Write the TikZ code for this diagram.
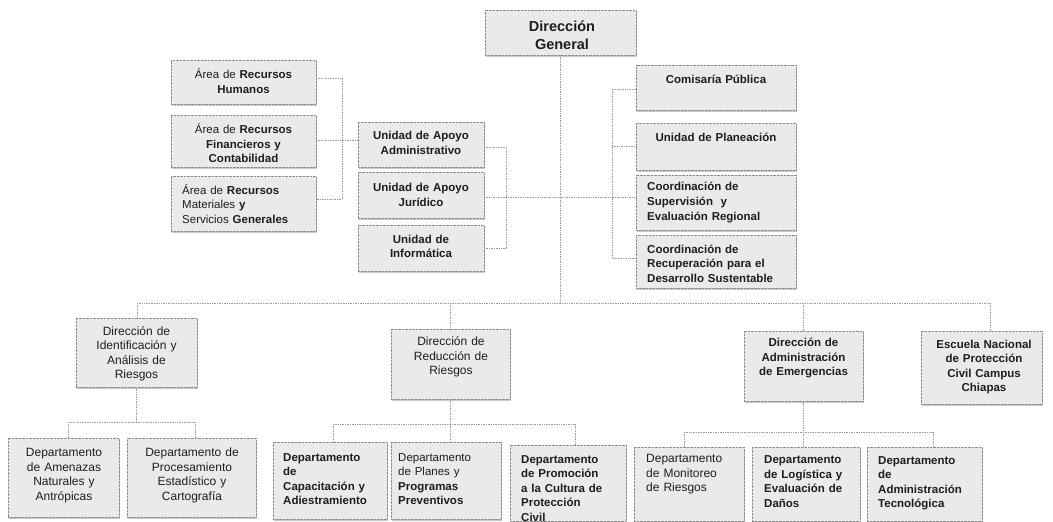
\documentclass[tikz,border=0pt]{standalone}
\usepackage{fontspec}
\setmainfont{Liberation Sans}
\usetikzlibrary{shadows,calc}
\definecolor{ink}{HTML}{1E1E1E}
\definecolor{boxfill}{HTML}{EAEAEA}
\definecolor{boxline}{HTML}{8C8C8C}
\definecolor{wirec}{HTML}{9A9A9A}
\tikzset{
  orgbox/.style={draw=boxline, densely dotted, fill=boxfill, inner sep=0pt, outer sep=0pt,
    drop shadow={shadow xshift=0.6pt, shadow yshift=-1.6pt, fill=gray!60, opacity=0.7}},
  lbl/.style={inner sep=0pt, text=ink, font=\fontsize{11.5}{14.5}\selectfont},
  lblr/.style={inner sep=0pt, text=ink, font=\fontsize{12}{14.5}\selectfont},
  wire/.style={draw=wirec, densely dotted, line width=0.7pt},
}
\newcommand\obox[5]{\node[orgbox, minimum width={(#4-#2)*1pt}, minimum height={(#5-#3)*1pt}] (#1) at ({(#2+#4)/2},{(#3+#5)/2}) {};}
\newcommand\ctext[6]{\node[#1, align=center, text width=#5pt] (#2) at (#3,#4) {#6};}
\newcommand\ltext[6]{\node[#1, align=left, text width=#5pt, anchor=west] (#2) at (#3,#4) {#6};}
\begin{document}
\begin{tikzpicture}[x=1pt,y=-1pt]
\useasboundingbox[fill=white] (0,0) rectangle (1053,522);

% ---------- connectors ----------
\coordinate (mainL) at (137,303);
\coordinate (mainR) at (990,303);
\coordinate (ka) at (342,78);
\coordinate (kb) at (342,199);
\coordinate (kc) at (342,140);
\coordinate (ja) at (506,147);
\coordinate (jb) at (506,248);
\coordinate (jc) at (506,197);
\coordinate (ra) at (612,89);
\coordinate (rb) at (612,258);
\coordinate (rc) at (612,146);
\coordinate (da) at (68,422);
\coordinate (db) at (195,422);
\coordinate (ea) at (333,424);
\coordinate (eb) at (575,424);
\coordinate (fa) at (684,432);
\coordinate (fb) at (933,432);

% ---------- boxes ----------
\obox{dg}{485}{10}{636}{55}
\obox{rh}{171}{60}{316}{104}
\obox{rf}{171}{115}{316}{167}
\obox{rm}{171}{176}{316}{231}
\obox{uaa}{358}{122}{484}{167}
\obox{uaj}{358}{172}{484}{218}
\obox{ui}{358}{225}{484}{271}
\obox{com}{636}{65}{796}{110}
\obox{plan}{636}{123}{796}{170}
\obox{csup}{636}{175}{796}{230}
\obox{crec}{636}{235}{796}{288}
\obox{dia}{76}{318}{197}{387}
\obox{drr}{391}{329}{510}{399}
\obox{dae}{744}{331}{863}{401}
\obox{esc}{921}{331}{1042}{404}
\obox{amen}{8}{438}{119}{517}
\obox{proc}{127}{438}{256}{517}
\obox{capa}{273}{442}{387}{519}
\obox{plane}{391}{442}{501}{519}
\obox{prom}{510}{445}{626}{521}
\obox{moni}{634}{447}{744}{521}
\obox{logi}{752}{447}{860}{521}
\obox{atec}{867}{447}{982}{521}

% main spine
\draw[wire] (dg.south) -- (dg.south |- mainL);
\draw[wire] (mainL) -- (mainR);
\draw[wire] (mainL) -- (mainL |- dia.north);
\draw[wire] (drr.north |- mainL) -- (drr.north);
\draw[wire] (dae.north |- mainL) -- (dae.north);
\draw[wire] (mainR) -- (mainR |- esc.north);
% left brackets
\draw[wire] (rh.east |- ka) -- (ka) -- (kb) -- (rm.east |- kb);
\draw[wire] (rf.east |- kc) -- (uaa.west |- kc);
\draw[wire] (uaa.east |- ja) -- (ja) -- (jb) -- (ui.east |- jb);
\draw[wire] (uaj.east |- jc) -- (csup.west |- jc);
% right bracket
\draw[wire] (com.west |- ra) -- (ra) -- (rb) -- (crec.west |- rb);
\draw[wire] (rc) -- (plan.west |- rc);
% DIA children
\draw[wire] (dia.south) -- (dia.south |- da);
\draw[wire] (da) -- (db);
\draw[wire] (da) -- (da |- amen.north);
\draw[wire] (db) -- (db |- proc.north);
% DRR children
\draw[wire] (drr.south) -- (drr.south |- ea);
\draw[wire] (ea) -- (eb);
\draw[wire] (ea) -- (ea |- capa.north);
\draw[wire] (drr.south |- ea) -- (drr.south |- plane.north);
\draw[wire] (eb) -- (eb |- prom.north);
% DAE children
\draw[wire] (dae.south) -- (dae.south |- fa);
\draw[wire] (fa) -- (fb);
\draw[wire] (fa) -- (fa |- moni.north);
\draw[wire] (dae.south |- fa) -- (dae.south |- logi.north);
\draw[wire] (fb) -- (fb |- atec.north);

% ---------- texts ----------
\node[inner sep=0pt, text=ink, align=center, font=\fontsize{14.5}{18}\selectfont\bfseries] (t-dg) at (562,35) {Dirección\\General};
\ctext{lbl}{t-rh}{243.5}{81}{140}{Área de \textbf{Recursos}\\\textbf{Humanos}}
\ctext{lbl}{t-rf}{243.5}{143.5}{140}{Área de \textbf{Recursos}\\\textbf{Financieros y}\\\textbf{Contabilidad}}
\ltext{lbl}{t-rm}{182}{204}{130}{Área de \textbf{Recursos}\\Materiales \textbf{y}\\Servicios \textbf{Generales}}
\ctext{lbl}{t-uaa}{421}{143}{120}{\bfseries Unidad de Apoyo\\Administrativo}
\ctext{lbl}{t-uaj}{421}{195}{120}{\bfseries Unidad de Apoyo\\Jurídico}
\ctext{lbl}{t-ui}{421}{246.5}{120}{\bfseries Unidad de\\Informática}
\ctext{lbl}{t-com}{716}{79}{155}{\bfseries Comisaría Pública}
\ctext{lbl}{t-plan}{716}{137}{155}{\bfseries Unidad de Planeación}
\ltext{lbl}{t-csup}{647}{202.5}{145}{\bfseries Coordinación de\\Supervisión~ y\\Evaluación Regional}
\ltext{lbl}{t-crec}{647}{263.5}{145}{\bfseries Coordinación de\\Recuperación para el\\Desarrollo Sustentable}
\ctext{lblr}{t-dia}{136.5}{354}{118}{Dirección de\\Identificación y\\Análisis de\\Riesgos}
\ctext{lblr}{t-drr}{451}{357}{116}{Dirección de\\Reducción de\\Riesgos}
\ctext{lbl}{t-dae}{803.5}{358}{116}{\bfseries Dirección de\\Administración\\de Emergencias}
\ctext{lbl}{t-esc}{984}{367}{118}{\bfseries Escuela Nacional\\de Protección\\Civil Campus\\Chiapas}
\ctext{lblr}{t-amen}{64}{475.5}{108}{Departamento\\de Amenazas\\Naturales y\\Antrópicas}
\ctext{lblr}{t-proc}{192}{475.5}{126}{Departamento de\\Procesamiento\\Estadístico y\\Cartografía}
\ltext{lbl}{t-capa}{283}{479}{102}{\bfseries Departamento\\de\\Capacitación y\\Adiestramiento}
\ltext{lbl}{t-plane}{398}{479}{100}{Departamento\\de Planes y\\\textbf{Programas}\\\textbf{Preventivos}}
\ltext{lbl}{t-prom}{521}{488.5}{102}{\bfseries Departamento\\de Promoción\\a la Cultura de\\Protección\\Civil}
\ltext{lblr}{t-moni}{646}{474.5}{96}{Departamento\\de Monitoreo\\de Riesgos}
\ltext{lbl}{t-logi}{764}{481.5}{94}{\bfseries Departamento\\de Logística y\\Evaluación de\\Daños}
\ltext{lbl}{t-atec}{878}{483.5}{102}{\bfseries Departamento\\de\\Administración\\Tecnológica}
\end{tikzpicture}
\end{document}
